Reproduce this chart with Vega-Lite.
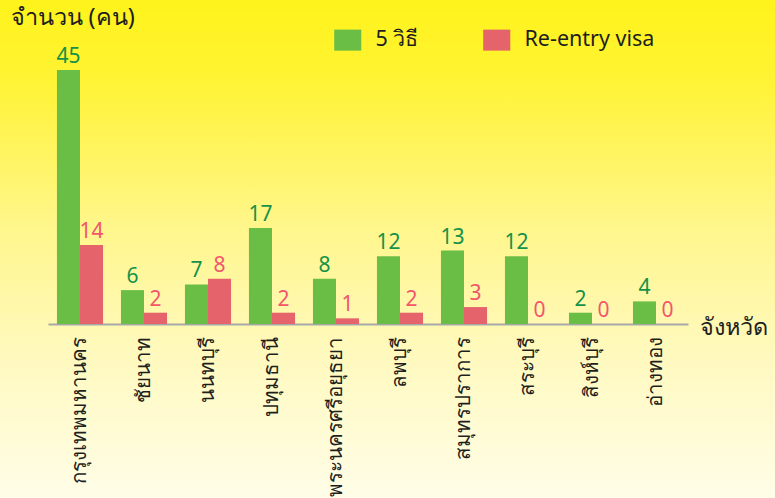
{
  "$schema": "https://vega.github.io/schema/vega-lite/v6.json",
  "width": 775,
  "height": 498,
  "autosize": {"type": "none"},
  "padding": 0,
  "background": "#FFFDE6",
  "view": {
    "stroke": null,
    "fill": {
      "gradient": "linear",
      "x1": 0, "y1": 0, "x2": 0, "y2": 1,
      "stops": [
        {"offset": 0, "color": "#FFF31C"},
        {"offset": 0.15, "color": "#FFF332"},
        {"offset": 0.45, "color": "#FFF68A"},
        {"offset": 0.7, "color": "#FFF9BC"},
        {"offset": 1, "color": "#FFFDE8"}
      ]
    }
  },
  "config": {
    "font": "Noto Sans",
    "text": {"font": "Noto Sans"}
  },
  "data": {
    "values": [
      {"province": "กรุงเทพมหานคร", "series": "5 วิธี", "value": 45},
      {"province": "กรุงเทพมหานคร", "series": "Re-entry visa", "value": 14},
      {"province": "ชัยนาท", "series": "5 วิธี", "value": 6},
      {"province": "ชัยนาท", "series": "Re-entry visa", "value": 2},
      {"province": "นนทบุรี", "series": "5 วิธี", "value": 7},
      {"province": "นนทบุรี", "series": "Re-entry visa", "value": 8},
      {"province": "ปทุมธานี", "series": "5 วิธี", "value": 17},
      {"province": "ปทุมธานี", "series": "Re-entry visa", "value": 2},
      {"province": "พระนครศรีอยุธยา", "series": "5 วิธี", "value": 8},
      {"province": "พระนครศรีอยุธยา", "series": "Re-entry visa", "value": 1},
      {"province": "ลพบุรี", "series": "5 วิธี", "value": 12},
      {"province": "ลพบุรี", "series": "Re-entry visa", "value": 2},
      {"province": "สมุทรปราการ", "series": "5 วิธี", "value": 13},
      {"province": "สมุทรปราการ", "series": "Re-entry visa", "value": 3},
      {"province": "สระบุรี", "series": "5 วิธี", "value": 12},
      {"province": "สระบุรี", "series": "Re-entry visa", "value": 0},
      {"province": "สิงห์บุรี", "series": "5 วิธี", "value": 2},
      {"province": "สิงห์บุรี", "series": "Re-entry visa", "value": 0},
      {"province": "อ่างทอง", "series": "5 วิธี", "value": 4},
      {"province": "อ่างทอง", "series": "Re-entry visa", "value": 0}
    ]
  },
  "encoding": {
    "x": {
      "field": "province",
      "type": "nominal",
      "sort": null,
      "scale": {"range": [48, 688], "paddingInner": 0.28, "paddingOuter": 0.14},
      "axis": {
        "orient": "bottom",
        "offset": -174,
        "domainColor": "#A8A8A8",
        "domainWidth": 2,
        "ticks": false,
        "labelAngle": -90,
        "labelAlign": "right",
        "labelBaseline": "middle",
        "labelFontSize": 20.5,
        "labelColor": "#1E1E1E",
        "labelPadding": 12,
        "labelLimit": 300,
        "labelOverlap": false,
        "title": "จังหวัด",
        "titleFontSize": 23.5,
        "titleFontWeight": "normal",
        "titleColor": "#1E1E1E",
        "titleAlign": "left",
        "titleBaseline": "middle",
        "titleX": 699,
        "titleY": 3,
        "titleAngle": 0
      }
    },
    "xOffset": {"field": "series", "type": "nominal", "sort": ["5 วิธี", "Re-entry visa"]},
    "y": {
      "field": "value",
      "type": "quantitative",
      "scale": {"domain": [-30.83, 57.4], "nice": false, "zero": false},
      "axis": {
        "domain": false,
        "ticks": false,
        "labels": false,
        "grid": false,
        "title": "จำนวน (คน)",
        "titleFontSize": 23.5,
        "titleFontWeight": "normal",
        "titleColor": "#1E1E1E",
        "titleAngle": 0,
        "titleAlign": "left",
        "titleBaseline": "middle",
        "titleX": 10,
        "titleY": 17
      }
    }
  },
  "layer": [
    {
      "mark": {"type": "bar"},
      "encoding": {
        "y2": {"datum": 0},
        "color": {
          "field": "series",
          "type": "nominal",
          "sort": ["5 วิธี", "Re-entry visa"],
          "scale": {"domain": ["5 วิธี", "Re-entry visa"], "range": ["#6ABE46", "#E5636B"]},
          "legend": {
            "title": null,
            "orient": "none",
            "direction": "horizontal",
            "legendX": 337,
            "legendY": 29,
            "symbolType": "M-1.29,-1H1.29V1H-1.29Z",
            "symbolSize": 441,
            "symbolStrokeWidth": 0,
            "symbolOpacity": 1,
            "labelFontSize": 21.5,
            "labelColor": "#1E1E1E",
            "labelOffset": 17,
            "columnPadding": 64
          }
        }
      }
    },
    {
      "mark": {"type": "text", "baseline": "bottom", "dy": -3, "fontSize": 21},
      "encoding": {
        "text": {"field": "value", "type": "quantitative"},
        "color": {
          "field": "series",
          "type": "nominal",
          "scale": {"domain": ["5 วิธี", "Re-entry visa"], "range": ["#6ABE46", "#E5636B"]},
          "legend": null
        },
        "fill": {
          "field": "series",
          "type": "nominal",
          "scale": {"domain": ["5 วิธี", "Re-entry visa"], "range": ["#14924A", "#F0566C"]},
          "legend": null
        }
      }
    }
  ]
}
